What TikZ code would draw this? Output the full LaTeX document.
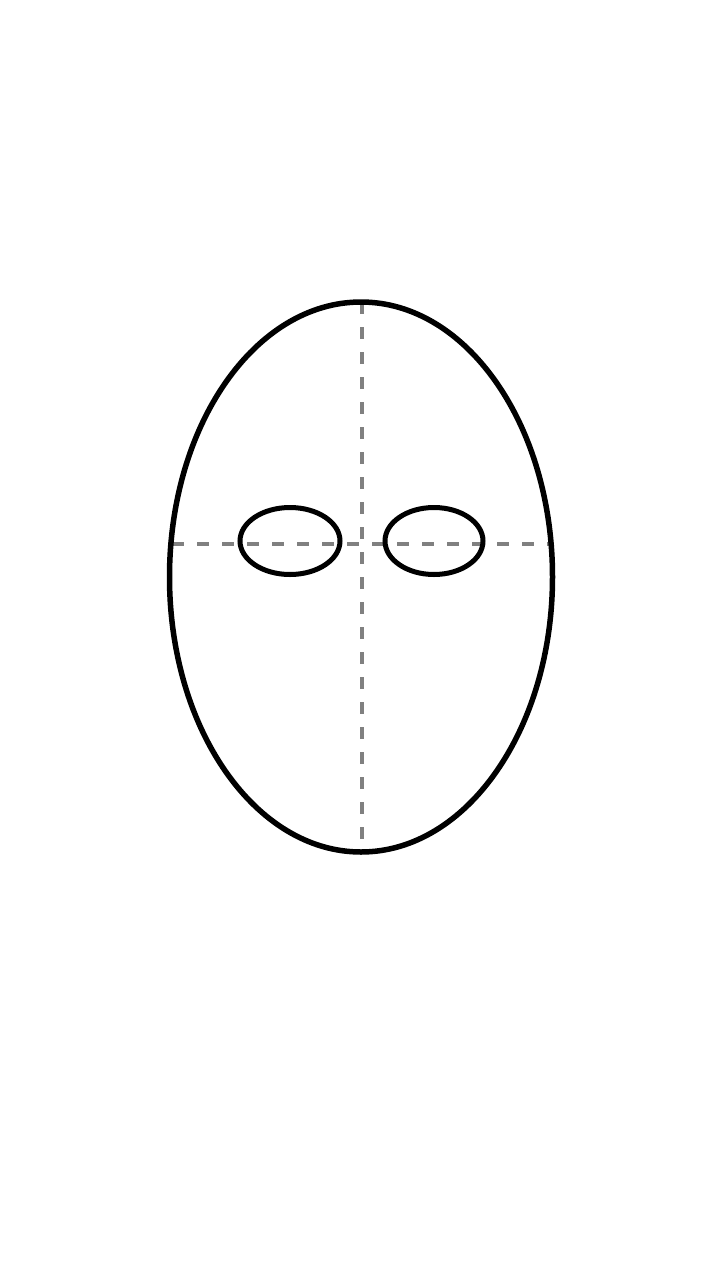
\documentclass[tikz,border=0pt]{standalone}
\begin{document}
\begin{tikzpicture}[x=1pt,y=-1pt,
  outline/.style={draw=black,line width=5.5pt},
  eyeline/.style={draw=black,line width=5pt},
  guide/.style={draw=gray,line width=4.5pt,dash pattern=on 12pt off 13pt}]
\useasboundingbox (0,0) rectangle (720,1280);
\fill[white] (0,0) rectangle (720,1280);
\coordinate (top) at (362,302);
\coordinate (bot) at (362,853);
\coordinate (lft) at (172,544);
\coordinate (rgt) at (549,544);
\draw[guide] (top) -- (bot);
\draw[guide] (lft) -- (rgt);
\draw[outline] (361,577) ellipse [x radius=191.5, y radius=275];
\draw[eyeline] (290,541) ellipse [x radius=50, y radius=33.5];
\draw[eyeline] (434,541) ellipse [x radius=49, y radius=33.5];
\end{tikzpicture}
\end{document}
